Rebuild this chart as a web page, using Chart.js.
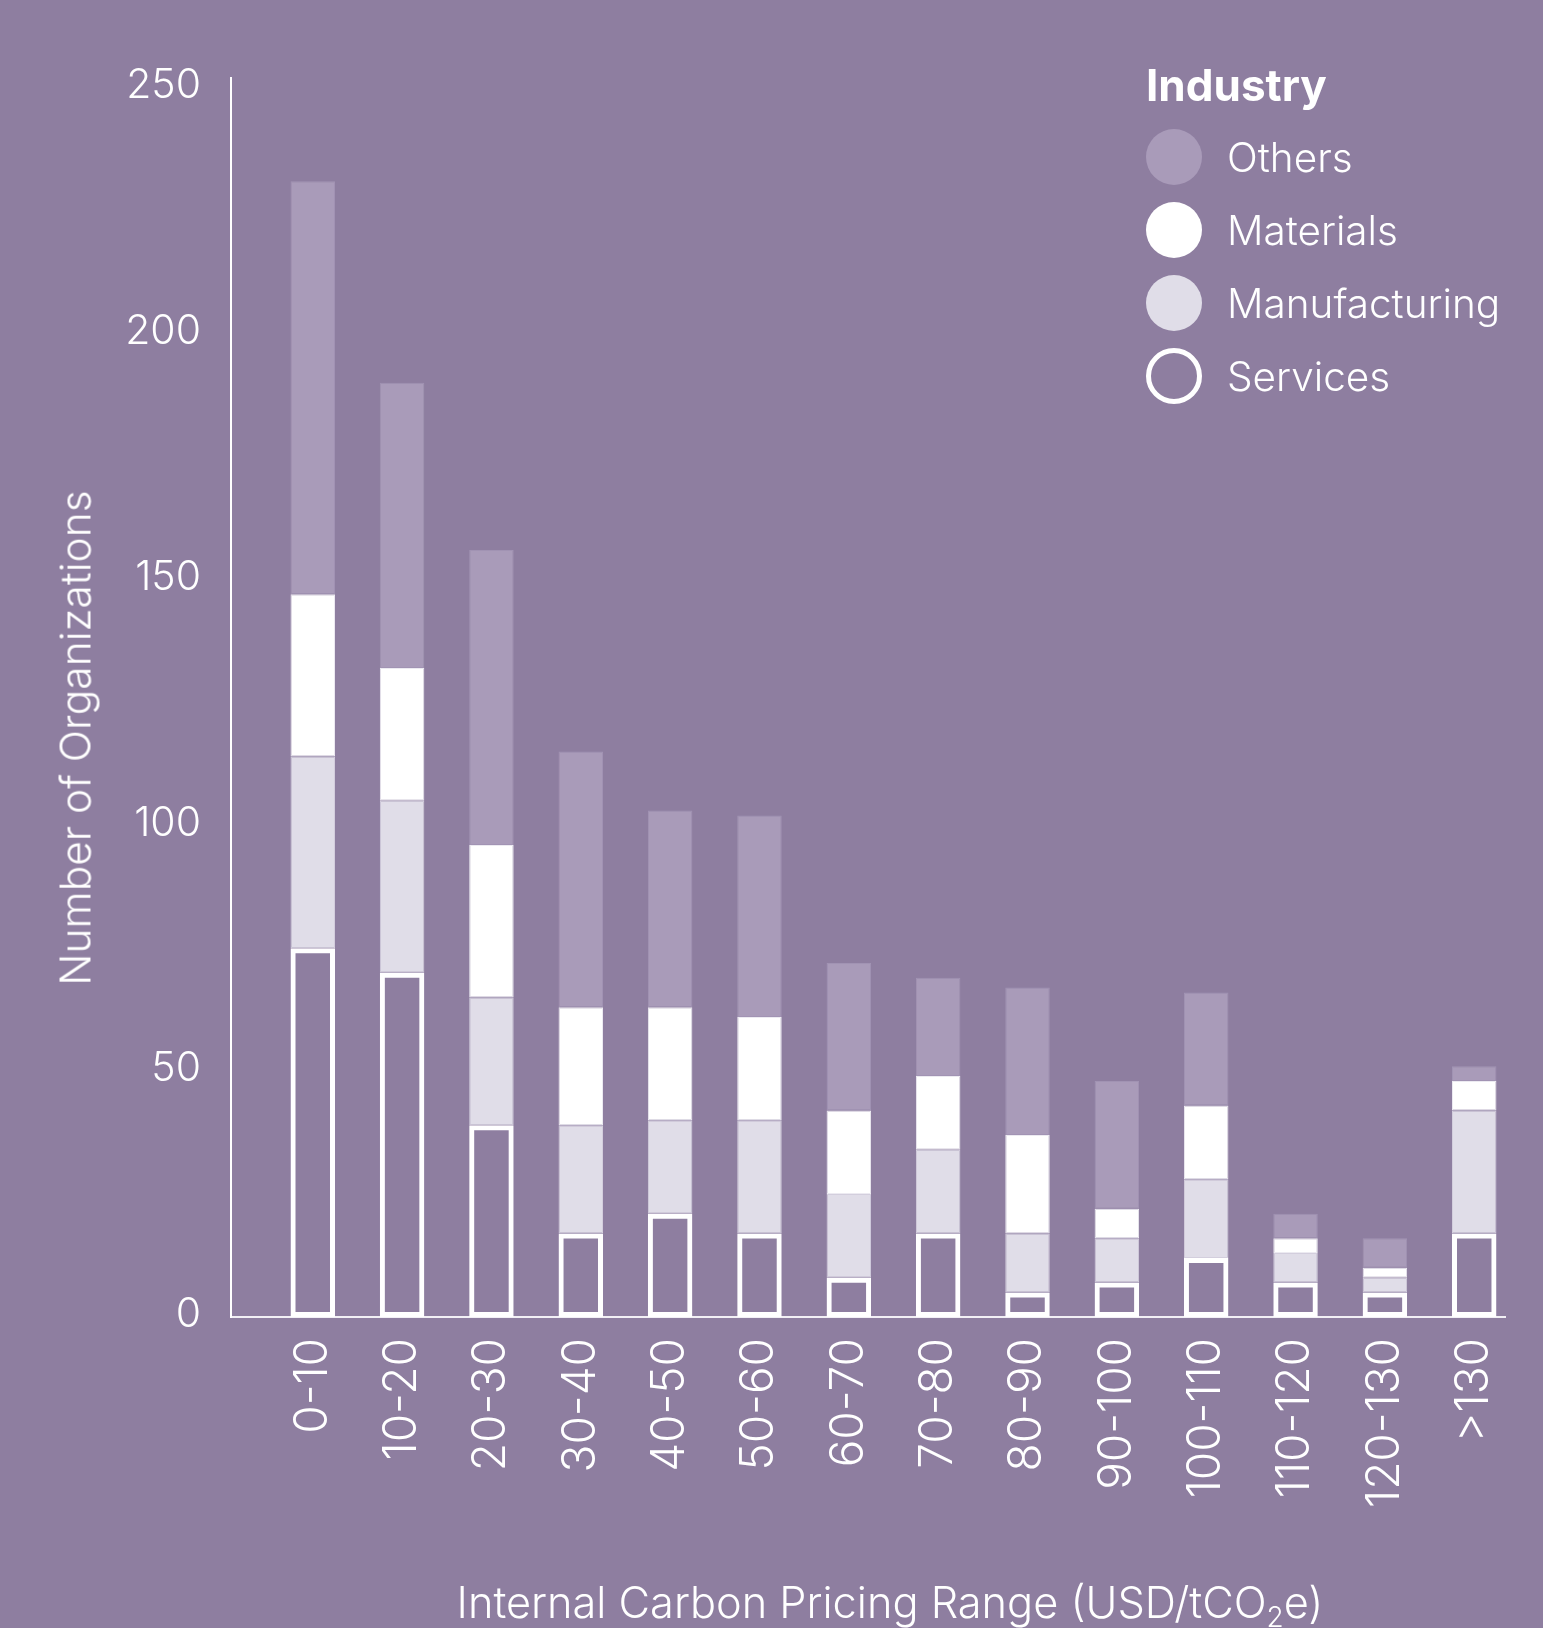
<!DOCTYPE html>
<html>
<head>
<meta charset="utf-8">
<script src="https://cdn.jsdelivr.net/npm/chart.js@4.4.1/dist/chart.umd.min.js"></script>
<style>
  html, body { margin: 0; padding: 0; background: #8E7EA0; }
  #wrap { position: relative; width: 1543px; height: 1628px; overflow: hidden; font-family: Inter, 'Noto Sans', sans-serif; color: #fff; }
  #chart { position: absolute; left: 0; top: 0; }
  .ytitle { position: absolute; left: 75px; top: 738px; transform: translate(-50%, -50%) rotate(-90deg); white-space: nowrap; font-size: 42.5px; font-weight: 300; }
  .xtitle { position: absolute; left: 890px; top: 1602px; transform: translate(-50%, -50%); white-space: nowrap; font-size: 43.3px; font-weight: 300; }
  .xtitle sub { font-size: 28px; vertical-align: -9px; line-height: 0; }
  .lg-title { position: absolute; left: 1146px; top: 85px; transform: translateY(-50%); font-size: 44px; font-weight: 700; white-space: nowrap; }
  .lg-item { position: absolute; left: 1146px; height: 56px; display: flex; align-items: center; white-space: nowrap; font-size: 40.5px; font-weight: 300; }
  .lg-dot { width: 56px; height: 56px; border-radius: 50%; box-sizing: border-box; margin-right: 25px; flex: none; }
</style>
</head>
<body>
<div id="wrap">
  <canvas id="chart" width="1543" height="1628"></canvas>
  <div class="ytitle">Number of Organizations</div>
  <div class="xtitle">Internal Carbon Pricing Range (USD/tCO<sub>2</sub>e)</div>
  <div class="lg-title">Industry</div>
</div>
<script>
// ---- data ----
const categories = ['0-10','10-20','20-30','30-40','40-50','50-60','60-70','70-80','80-90','90-100','100-110','110-120','120-130','>130'];
const services      = [75, 70, 39, 17, 21, 17,  8, 17,  5,  7, 12, 7, 5, 17];
const manufacturing = [39, 35, 26, 22, 19, 23, 17, 17, 12,  9, 16, 6, 3, 25];
const materials     = [33, 27, 31, 24, 23, 21, 17, 15, 20,  6, 15, 3, 2,  6];
const others        = [84, 58, 60, 52, 40, 41, 30, 20, 30, 26, 23, 5, 6,  3];
const yTicks = [0, 50, 100, 150, 200, 250];
const legendOrder = ['Others', 'Materials', 'Manufacturing', 'Services'];

// ---- styles ----
const C_OTHERS = '#A99BB9';
const C_MAT = '#FFFFFF';
const C_MANU = '#E0DDE8';
const FONT = 'Inter, "Noto Sans", sans-serif';

function pts(arr) { return arr.map((v, i) => ({ x: i, y: v })); }

const datasets = [
  { label: 'Services', data: pts(services), backgroundColor: 'rgba(0,0,0,0)', borderColor: '#FFFFFF', borderWidth: 5, borderSkipped: false, legendFill: 'transparent', legendBorder: '#FFFFFF' },
  { label: 'Manufacturing', data: pts(manufacturing), backgroundColor: C_MANU, borderColor: '#D3CEDD', borderWidth: 1, borderSkipped: false, legendFill: C_MANU },
  { label: 'Materials', data: pts(materials), backgroundColor: C_MAT, borderColor: '#ECEAF1', borderWidth: 1, borderSkipped: false, legendFill: C_MAT },
  { label: 'Others', data: pts(others), backgroundColor: C_OTHERS, borderColor: '#A193B3', borderWidth: 1, borderSkipped: false, legendFill: C_OTHERS }
];
datasets.forEach(d => { d.categoryPercentage = 1; d.barPercentage = 0.498; });

new Chart(document.getElementById('chart'), {
  type: 'bar',
  data: { datasets },
  options: {
    responsive: false,
    animation: false,
    layout: { padding: { left: 0, top: 78, right: 37.5, bottom: 0 } },
    plugins: { legend: { display: false }, tooltip: { enabled: false } },
    scales: {
      x: {
        type: 'linear', min: -0.915, max: 13.35, offset: false, stacked: true,
        grid: { display: false, drawTicks: false },
        border: { display: true, color: '#F2F0F5', width: 2 },
        afterBuildTicks: s => { s.ticks = categories.map((c, i) => ({ value: i })); },
        afterFit: s => { s.height = 311; s.paddingLeft = 0; s.paddingRight = 0; },
        ticks: {
          autoSkip: false, minRotation: 90, maxRotation: 90, padding: 21,
          color: '#FFFFFF', font: { family: FONT, size: 46, weight: '300' },
          callback: v => categories[v]
        }
      },
      y: {
        type: 'linear', min: 0, max: 252, stacked: true,
        grid: { display: false, drawTicks: false },
        border: { display: true, color: '#FFFFFF', width: 2 },
        afterBuildTicks: s => { s.ticks = yTicks.map(v => ({ value: v })); },
        afterFit: s => { s.width = 231; },
        ticks: {
          padding: 30, labelOffset: -2,
          color: '#FFFFFF', font: { family: FONT, size: 41, weight: '300' },
          callback: v => String(v)
        }
      }
    }
  }
});

// ---- legend (HTML, built from the datasets) ----
const wrap = document.getElementById('wrap');
legendOrder.forEach((name, k) => {
  const ds = datasets.find(d => d.label === name);
  const item = document.createElement('div');
  item.className = 'lg-item';
  item.style.top = (157 + k * 73 - 28) + 'px';
  const dot = document.createElement('div');
  dot.className = 'lg-dot';
  dot.style.background = ds.legendFill;
  if (ds.legendBorder) dot.style.border = '5px solid ' + ds.legendBorder;
  const txt = document.createElement('span');
  txt.textContent = name;
  item.appendChild(dot);
  item.appendChild(txt);
  wrap.appendChild(item);
});
</script>
</body>
</html>
